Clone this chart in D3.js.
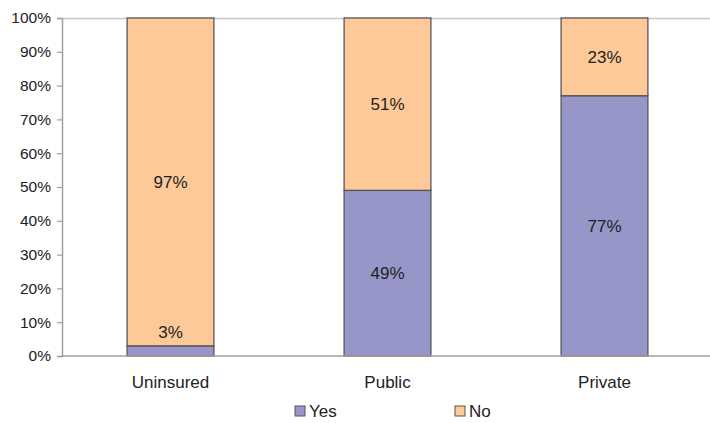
<!DOCTYPE html>
<html>
<head>
<meta charset="utf-8">
<script src="https://cdn.jsdelivr.net/npm/d3@7"></script>
<style>
  html, body { margin: 0; padding: 0; background: #fff; }
  svg { display: block; font-family: Arial, "Liberation Sans", sans-serif; }
</style>
</head>
<body>
<svg id="chart" width="710" height="423"></svg>
<script>
// Share of respondents by insurance type
const categories = ["Uninsured", "Public", "Private"];
const yesValues = [3, 49, 77];
const noValues = [97, 51, 23];
const seriesNames = ["Yes", "No"];
const tickValues = [0, 10, 20, 30, 40, 50, 60, 70, 80, 90, 100];

const colors = { Yes: "#9696c9", No: "#fdc998" };
const fontStack = "Arial, 'Liberation Sans', sans-serif";

const svg = d3.select("#chart");
const plotLeft = 62, plotRight = 713, plotTop = 18, plotBottom = 356;

const x = d3.scaleBand().domain(categories).range([plotLeft, plotRight]).paddingInner(0.6).paddingOuter(0.3);
const y = d3.scaleLinear().domain([0, 100]).range([plotBottom, plotTop]);

const rows = categories.map((c, i) => ({ category: c, Yes: yesValues[i], No: noValues[i] }));
const stacked = d3.stack().keys(seriesNames)(rows);

// top frame line
svg.append("line")
  .attr("x1", plotLeft).attr("x2", 710).attr("y1", plotTop + 0.5).attr("y2", plotTop + 0.5)
  .attr("stroke", "#c8c8c8").attr("stroke-width", 1.5);

// y axis
const yAxis = d3.axisLeft(y).tickValues(tickValues).tickFormat(d => d + "%").tickSize(5).tickPadding(6);
const gy = svg.append("g").attr("transform", `translate(${plotLeft},0)`).call(yAxis);
gy.select(".domain").attr("stroke", "#a0a0a0").attr("stroke-width", 1.5);
gy.selectAll(".tick line").attr("stroke", "#a0a0a0").attr("stroke-width", 1.2);
gy.selectAll(".tick text").attr("font-size", 15.5).attr("fill", "#222").attr("font-family", fontStack);

// bars
const layers = svg.append("g").selectAll("g").data(stacked).join("g")
  .attr("fill", d => colors[d.key]);
layers.selectAll("rect").data(d => d).join("rect")
  .attr("x", d => x(d.data.category))
  .attr("width", x.bandwidth())
  .attr("y", d => y(d[1]))
  .attr("height", d => y(d[0]) - y(d[1]))
  .attr("stroke", "#5a5258").attr("stroke-width", 1.3);

// x axis
const xAxis = d3.axisBottom(x).tickSize(0).tickPadding(20);
const gx = svg.append("g").attr("transform", `translate(0,${plotBottom})`).call(xAxis);
gx.select(".domain").attr("stroke", "#a0a0a0").attr("stroke-width", 1.5).attr("d", `M${plotLeft},0H710`);
gx.selectAll(".tick text").attr("font-size", 17).attr("fill", "#222").attr("font-family", fontStack);

// value labels
const labelG = svg.append("g").attr("font-size", 17).attr("fill", "#222").attr("text-anchor", "middle");
stacked.forEach(layer => {
  layer.forEach(d => {
    const v = d[1] - d[0];
    const cx = x(d.data.category) + x.bandwidth() / 2;
    // small segments get their label just above them
    const cy = v < 8 ? y(d[1]) - 14 : y((d[0] + d[1]) / 2);
    labelG.append("text").attr("x", cx).attr("y", cy).attr("dy", "0.35em").text(v + "%");
  });
});

// legend
const legendX = [295, 455];
const legend = svg.append("g").selectAll("g").data(seriesNames).join("g")
  .attr("transform", (d, i) => `translate(${legendX[i]},411)`);
legend.append("rect").attr("x", 0).attr("y", -5).attr("width", 10).attr("height", 10)
  .attr("fill", d => colors[d]).attr("stroke", "#5a5258").attr("stroke-width", 1);
legend.append("text").attr("x", 14).attr("dy", "0.35em").attr("font-size", 17).attr("fill", "#222").text(d => d);
</script>
</body>
</html>
